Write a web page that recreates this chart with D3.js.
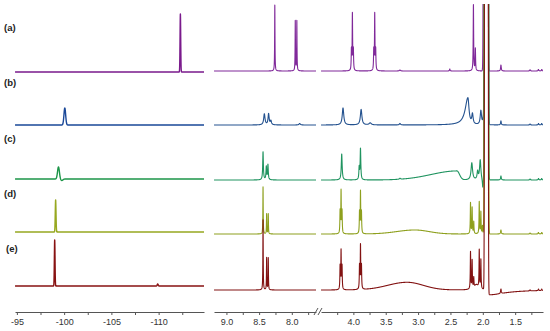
<!DOCTYPE html>
<html>
<head>
<meta charset="utf-8">
<script src="https://cdn.jsdelivr.net/npm/d3@7"></script>
<style>
    body {margin: 0; background: #fff}
    text {font-family: "Liberation Sans", Arial, sans-serif}
</style>
</head>
<body>
<svg id="chart" width="550" height="331"></svg>
<script>

var labels = ['(a)', '(b)', '(c)', '(d)', '(e)']
var colorsF = ['#7a1a8c', '#1a4898', '#1c9548', '#97a820', '#881212']
var colorsH = ['#80299a', '#24528f', '#209460', '#8ea01e', '#821212']

// vertical stacking offsets (intensity units)
var offsetsF = [240, 187, 133, 80, 26]
var offsetsH = [241, 187, 132, 78, 22]

var domainF = [-94.8, -114.8]
var domainH1 = [9.19, 7.63]
var domainH2 = [4.5, 1.07]

var ticksF = [-95, -97.5, -100, -102.5, -105, -107.5, -110, -112.5]
var ticksH1 = [9.0, 8.75, 8.5, 8.25, 8.0, 7.75]
var ticksH2 = [4.25, 4.0, 3.75, 3.5, 3.25, 3.0, 2.75, 2.5, 2.25, 2.0, 1.75, 1.5, 1.25]

// peaks: [ppm, height, width (high ppm side), width (low ppm side), shape]
var peaksF = [
    [[-112.3, 58, 0.035, 0.035, 'g']],
    [[-100.07, 17, 0.09, 0.09, 'g']],
    [[-99.4, 12, 0.1, 0.1, 'g'], [-99.75, -1.5, 0.12, 0.12, 'g']],
    [[-99.1, 32, 0.04, 0.04, 'g']],
    [[-99.0, 46, 0.035, 0.035, 'g'], [-109.9, 2, 0.05, 0.05, 'g']]
]

var peaksH = [
    [[8.26, 66, 0.003], [7.947, 50, 0.003], [7.923, 50, 0.003],
     [4.03, 20, 0.004], [4.015, 56, 0.004], [4.0, 20, 0.004],
     [3.685, 20, 0.004], [3.67, 56, 0.004], [3.655, 20, 0.004],
     [3.28, 1, 0.01], [2.51, 2, 0.005],
     [2.145, 66, 0.004], [2.115, 22, 0.004],
     [1.955, 1e5, 0.011, 0.011, 'g'],
     [1.72, 6, 0.006], [1.27, 1.2, 0.006], [1.14, 1.5, 0.006], [1.09, 1.5, 0.006]],
    [[8.42, 11, 0.012], [8.355, 11, 0.01], [8.32, 4, 0.01], [7.88, 1.5, 0.012],
     [4.16, 17, 0.014], [3.88, 15.5, 0.014], [3.74, 2, 0.02], [3.28, 1.5, 0.01],
     [2.23, 27, 0.05, 0.02], [2.16, 10, 0.012], [2.03, 14, 0.012], [1.99, 8, 0.01],
     [1.945, 1e5, 0.01, 0.01, 'g'],
     [1.72, 4, 0.006], [1.27, 1, 0.006], [1.14, 1.5, 0.006], [1.09, 1.5, 0.006]],
    [[8.44, 28, 0.006], [8.39, 13, 0.006], [8.365, 15, 0.006],
     [4.18, 26, 0.008], [3.91, 12, 0.006], [3.89, 31, 0.006], [3.28, 1, 0.01],
     [2.4, 9, 0.4, 0.04, 'g'],
     [2.17, 17, 0.014], [2.08, 8, 0.01], [2.04, 20, 0.012], [2.0, -9, 0.008],
     [1.945, 1e5, 0.01, 0.01, 'g'],
     [1.72, 4, 0.006], [1.27, 1, 0.006], [1.14, 1.5, 0.006], [1.09, 1.5, 0.006]],
    [[8.44, 47, 0.003], [8.385, 20, 0.003], [8.36, 20, 0.003],
     [4.205, 22, 0.004], [4.19, 42, 0.004], [4.175, 22, 0.004],
     [3.905, 21, 0.004], [3.89, 41, 0.004], [3.875, 21, 0.004],
     [3.05, 4, 0.28, 0.22, 'g'],
     [2.19, 31, 0.004], [2.165, 26, 0.004], [2.14, 12, 0.004],
     [2.055, 32, 0.004], [2.03, 22, 0.004], [2.005, 8, 0.004],
     [1.945, 1e5, 0.01, 0.01, 'g'],
     [1.72, 4, 0.006], [1.27, 1, 0.006], [1.14, 1.5, 0.006], [1.09, 1.5, 0.006]],
    [[8.44, 70, 0.003], [8.385, 32, 0.003], [8.36, 32, 0.003],
     [4.205, 23, 0.004], [4.19, 38, 0.004], [4.175, 23, 0.004],
     [3.905, 23, 0.004], [3.89, 43, 0.004], [3.875, 23, 0.004],
     [3.17, 7.7, 0.3, 0.25, 'g'],
     [2.19, 37, 0.004], [2.165, 28, 0.004], [2.14, 10, 0.004], [2.1, 5, 0.04],
     [2.055, 38, 0.004], [2.03, 29, 0.004],
     [1.945, 1e5, 0.009, 0.009, 'g'],
     [1.91, -5, 0.005, 0.3],
     [1.72, 4.5, 0.006], [1.27, 1, 0.006], [1.14, 1.5, 0.006], [1.09, 1.5, 0.006]]
]

var svg = d3.select('#chart')
var axisY = 312

var y = d3.scaleLinear().domain([0, 310]).range([axisY, 2])

function halfFmt(d) {
    return Math.abs(d * 2 - Math.round(d * 2)) < 1e-6 ? d.toFixed(1) : ''
}

var panels = [
    {id: 'f', x: d3.scaleLinear().domain(domainF).range([15, 204]), ticks: ticksF,
     peaks: peaksF, offsets: offsetsF, colors: colorsF, step: 0.005, sw: 1.4,
     fmt: function(d) {return d % 5 === 0 ? String(d) : ''}},
    {id: 'h1', x: d3.scaleLinear().domain(domainH1).range([214, 316]), ticks: ticksH1,
     peaks: peaksH, offsets: offsetsH, colors: colorsH, step: 0.0005, sw: 1.1, fmt: halfFmt},
    {id: 'h2', x: d3.scaleLinear().domain(domainH2).range([321, 543]), ticks: ticksH2,
     peaks: peaksH, offsets: offsetsH, colors: colorsH, step: 0.0005, sw: 1.1, fmt: halfFmt}
]

function shape(p, v) {
    var d = v - p[0],
        w = d > 0 ? p[2] : (p[3] || p[2])
    if (p[4] === 'g') return p[1] * Math.exp(-0.5 * d * d / (w * w))
    return p[1] / (1 + d * d / (w * w))
}

function spectrum(peaks, lo, hi, step) {
    return d3.range(lo, hi, step).map(function(v) {
        return [v, d3.sum(peaks, function(p) {return shape(p, v)})]
    })
}

var defs = svg.append('defs')

panels.forEach(function(p) {
    var r = p.x.range(),
        dom = p.x.domain(),
        lo = Math.min(dom[0], dom[1]),
        hi = Math.max(dom[0], dom[1])

    defs.append('clipPath').attr('id', 'clip-' + p.id)
        .append('rect')
        .attr('x', r[0]).attr('y', 4)
        .attr('width', r[1] - r[0]).attr('height', axisY - 4)

    var g = svg.append('g').attr('clip-path', 'url(#clip-' + p.id + ')')

    p.peaks.forEach(function(pk, i) {
        var line = d3.line()
            .x(function(d) {return p.x(d[0])})
            .y(function(d) {return y(p.offsets[i] + d[1])})
        g.append('path')
            .datum(spectrum(pk, lo, hi, p.step))
            .attr('d', line)
            .attr('fill', 'none')
            .attr('stroke', p.colors[i])
            .attr('stroke-width', p.sw)
            .attr('stroke-linejoin', 'round')
    })

    var axis = d3.axisBottom(p.x)
        .tickValues(p.ticks)
        .tickFormat(p.fmt)
        .tickSize(3)
        .tickSizeOuter(0)
        .tickPadding(4)

    var ag = svg.append('g')
        .attr('transform', 'translate(0,' + axisY + ')')
        .style('color', '#555')
        .call(axis)
    ag.attr('font-size', 9).attr('font-family', null)
    ag.selectAll('text').attr('fill', '#333')
})

// axis break marks
svg.selectAll('.brk')
    .data([314, 318])
    .enter().append('line')
    .attr('class', 'brk')
    .attr('x1', function(d) {return d}).attr('y1', axisY + 3)
    .attr('x2', function(d) {return d + 4}).attr('y2', axisY - 4)
    .attr('stroke', '#555')
    .attr('stroke-width', 1)

// trace labels
var ly = d3.scalePoint().domain(labels).range([31, 252])

svg.selectAll('.lbl')
    .data(labels)
    .enter().append('text')
    .attr('class', 'lbl')
    .attr('x', function(d, i) {return i === 4 ? 6 : 4})
    .attr('y', function(d) {return ly(d)})
    .attr('font-size', 9.5)
    .attr('font-weight', 'bold')
    .attr('fill', '#222')
    .text(function(d) {return d})

</script>
</body>
</html>
